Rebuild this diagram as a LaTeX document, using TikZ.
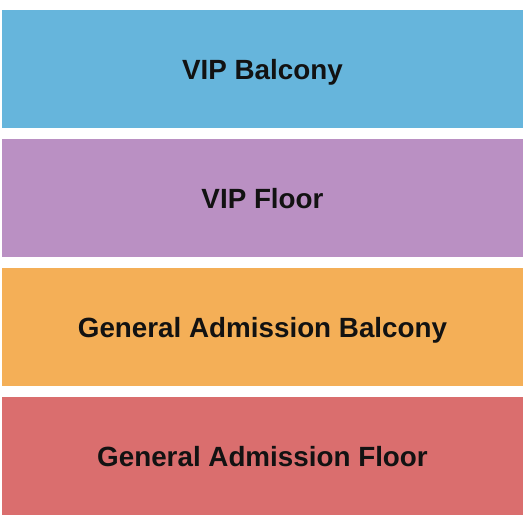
\documentclass[tikz,border=0pt]{standalone}
\usepackage{fontspec}
\setmainfont{Liberation Sans}
\definecolor{vipbalcony}{HTML}{66B5DC}
\definecolor{vipfloor}{HTML}{BA90C3}
\definecolor{gabalcony}{HTML}{F4AF57}
\definecolor{gafloor}{HTML}{DA6E6E}
\begin{document}
\begin{tikzpicture}[x=1pt, y=-1pt,
		section/.style = {minimum width = 521pt, minimum height = 118pt, inner sep = 0pt, text height = 20pt, text depth = 0pt, font = \fontsize{27.8}{30}\bfseries, text = black!93}]
		\useasboundingbox[fill = white] (0,0) rectangle (525,525);
		\node[section, fill = vipbalcony] (VIPBalcony) at (262.5,69) {VIP Balcony};
		\node[section, fill = vipfloor] (VIPFloor) at (262.5,198) {VIP Floor};
		\node[section, fill = gabalcony] (GABalcony) at (262.5,327) {General Admission Balcony};
		\node[section, fill = gafloor] (GAFloor) at (262.5,456) {General Admission Floor};
	\end{tikzpicture}
\end{document}
